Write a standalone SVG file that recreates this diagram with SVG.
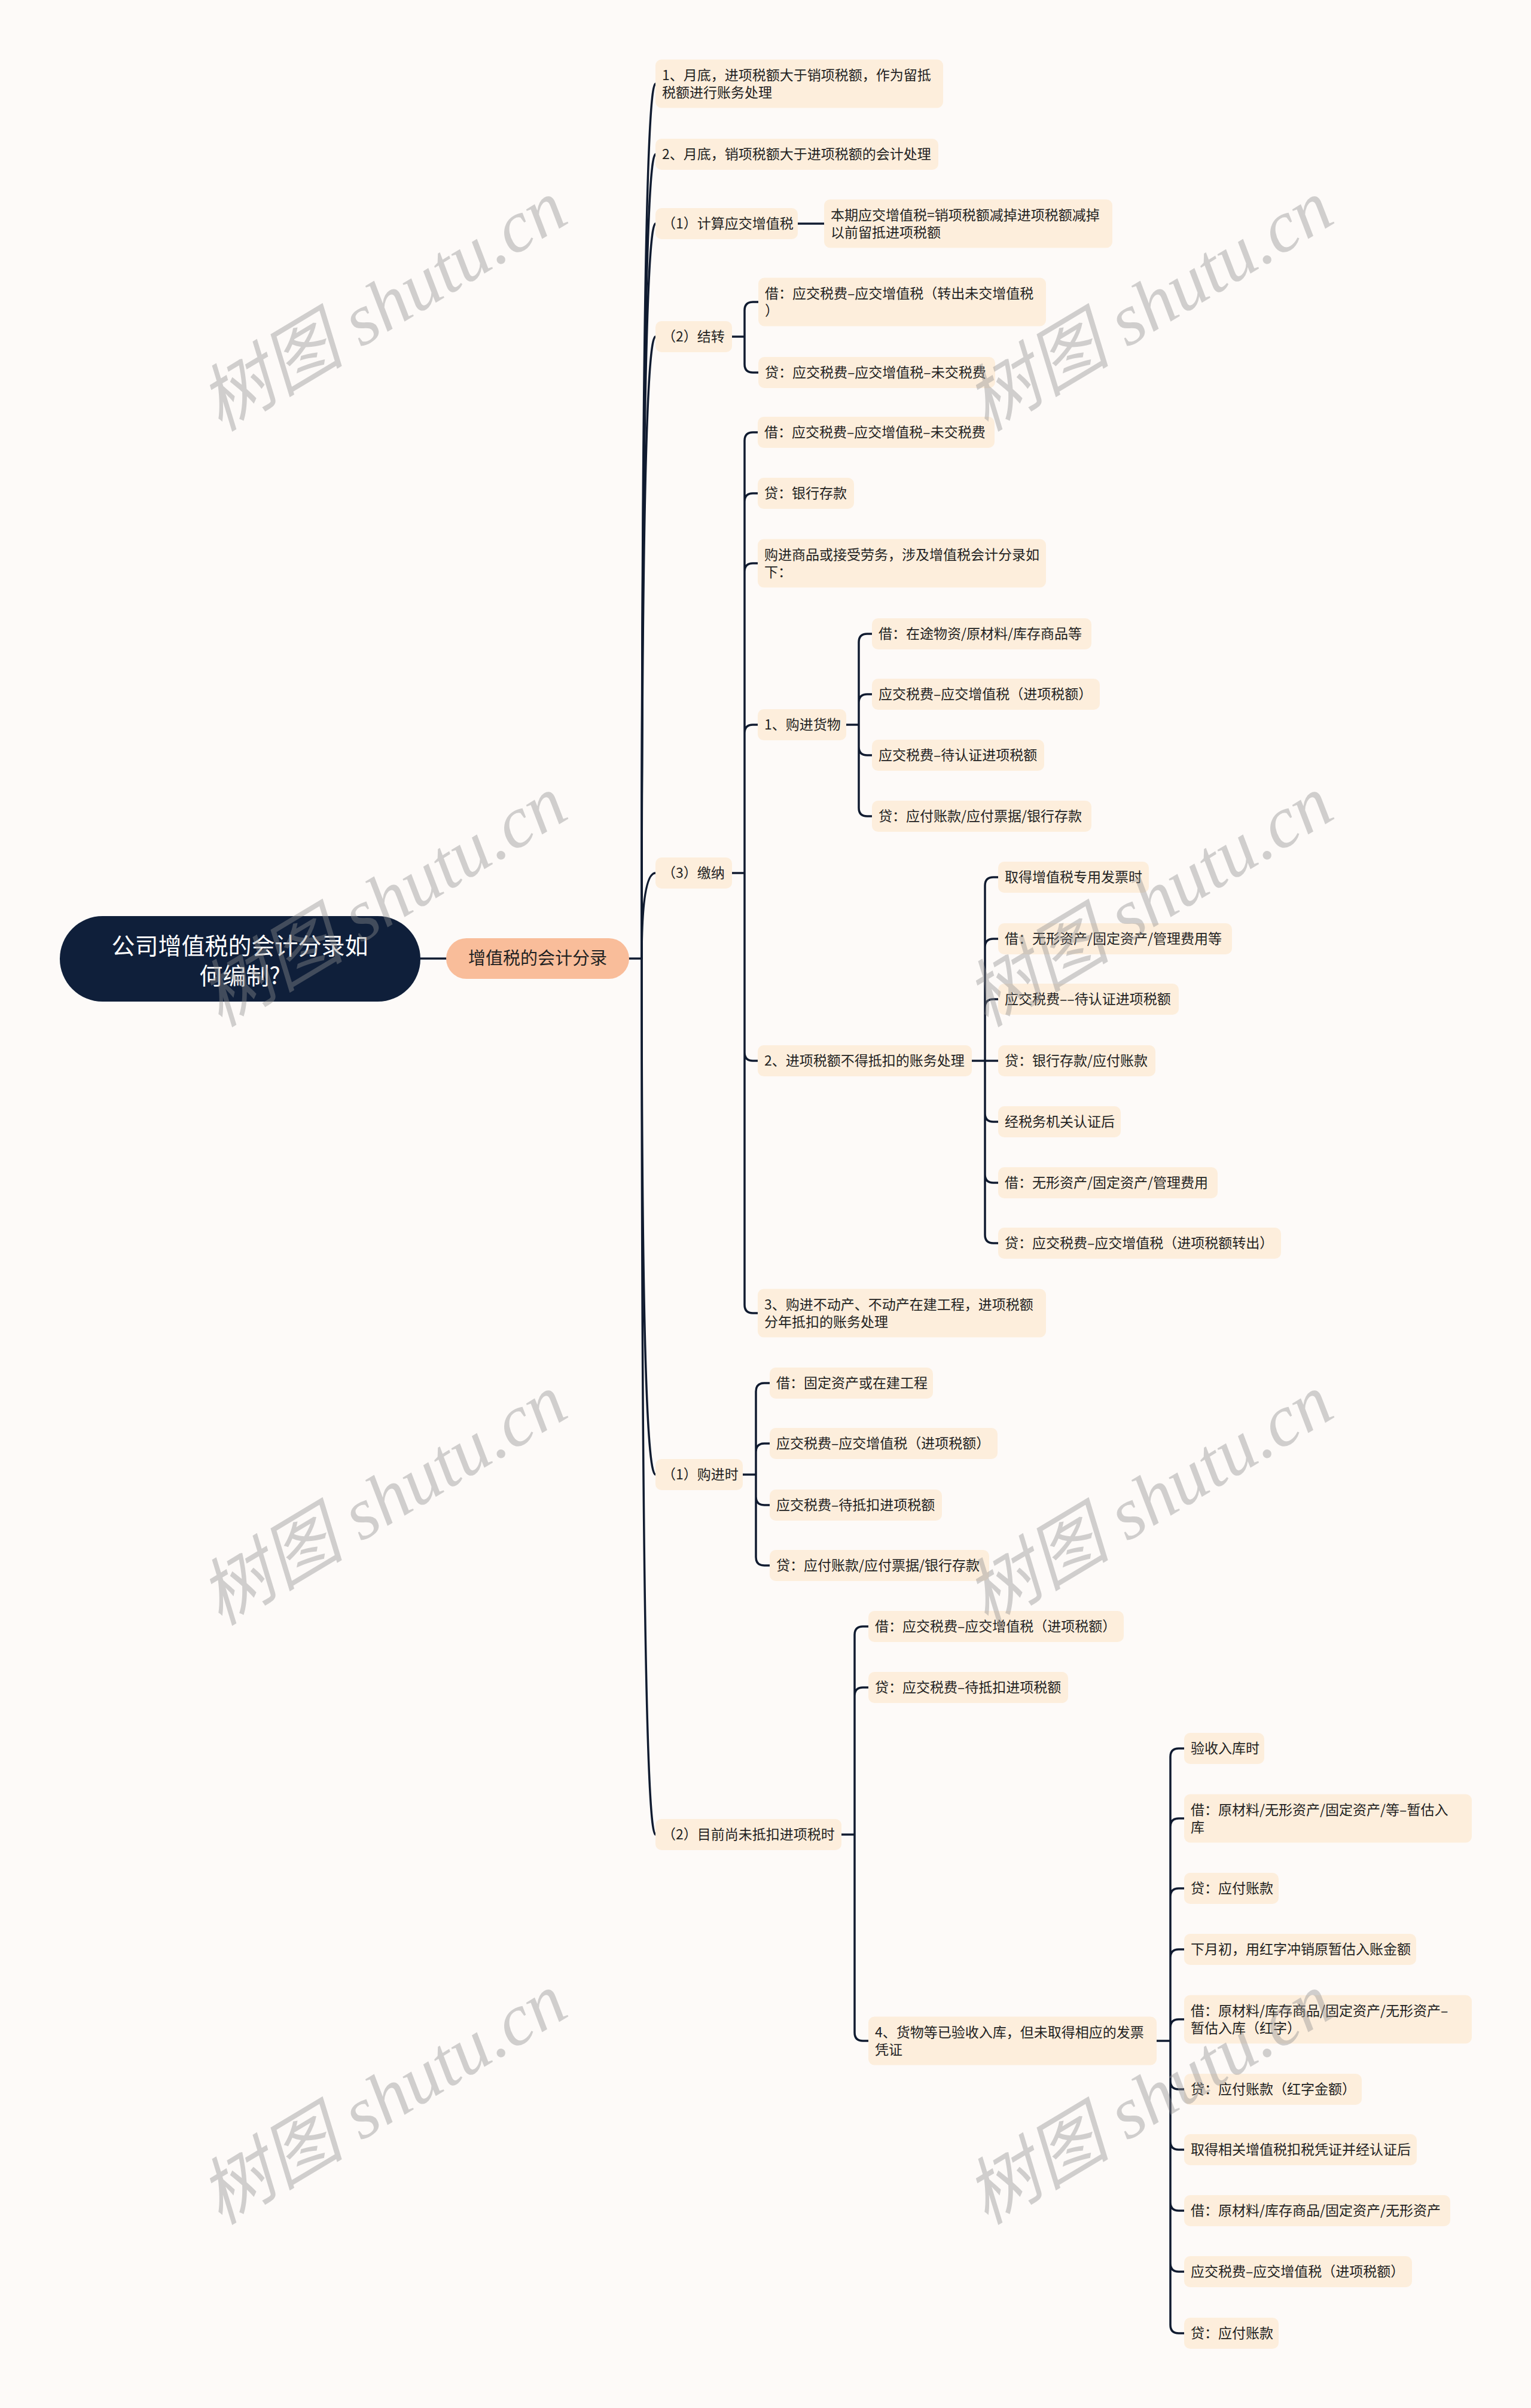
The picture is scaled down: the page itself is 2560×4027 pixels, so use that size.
<svg xmlns="http://www.w3.org/2000/svg" width="2560" height="4027" viewBox="0 0 2560 4027">
<style>
.bg{fill:#FDFAF8}
.nd rect{fill:#FDEEDC}
.tx{font-family:"Noto Sans CJK SC","Noto Sans",sans-serif;font-size:23px;fill:#222222}
.ln{fill:none;stroke:#101B30;stroke-width:3.5;stroke-linecap:round}
.wm{font-family:"Liberation Serif","Noto Sans CJK SC",serif;font-style:italic;font-size:122px;fill:#8f8f8f;opacity:.4;text-anchor:middle}
</style>
<rect class="bg" x="0" y="0" width="2560" height="4027"/>

<g id="connectors" class="ln">
<path d="M703,1603H746"/>
<path d="M1052,1603H1073"/>
<path d="M1073,1603Q1073,140 1096,140"/>
<path d="M1073,1603Q1073,258 1096,258"/>
<path d="M1073,1603Q1073,374 1096,374"/>
<path d="M1073,1603Q1073,563 1096,563"/>
<path d="M1073,1603Q1073,1460 1096,1460"/>
<path d="M1073,1603Q1073,2466 1096,2466"/>
<path d="M1073,1603Q1073,3068 1096,3068"/>
<path d="M1334,374H1378"/>
<path d="M1224,563H1245M1245,563V519Q1245,505 1259,505H1268M1245,563V609Q1245,623 1259,623H1268"/>
<path d="M1224,1460H1245M1245,1460V737Q1245,723 1259,723H1267M1245,1460V839Q1245,825 1259,825H1267M1245,1460V956Q1245,942 1259,942H1267M1245,1460V1226Q1245,1212 1259,1212H1267M1245,1460V1760Q1245,1774 1259,1774H1267M1245,1460V2182Q1245,2196 1259,2196H1267"/>
<path d="M1415,1212H1436M1436,1212V1074Q1436,1060 1450,1060H1458M1436,1212V1175Q1436,1161 1450,1161H1458M1436,1212V1249Q1436,1263 1450,1263H1458M1436,1212V1351Q1436,1365 1450,1365H1458"/>
<path d="M1625,1774H1669M1647,1774V1481Q1647,1467 1661,1467H1669M1647,1774V1584Q1647,1570 1661,1570H1669M1647,1774V1685Q1647,1671 1661,1671H1669M1647,1774V1862Q1647,1876 1661,1876H1669M1647,1774V1964Q1647,1978 1661,1978H1669M1647,1774V2065Q1647,2079 1661,2079H1669"/>
<path d="M1242,2466H1264M1264,2466V2327Q1264,2313 1278,2313H1287M1264,2466V2428Q1264,2414 1278,2414H1287M1264,2466V2503Q1264,2517 1278,2517H1287M1264,2466V2604Q1264,2618 1278,2618H1287"/>
<path d="M1407,3068H1429M1429,3068V2734Q1429,2720 1443,2720H1452M1429,3068V2836Q1429,2822 1443,2822H1452M1429,3068V3399Q1429,3413 1443,3413H1452"/>
<path d="M1934,3413H1957M1957,3413V2938Q1957,2924 1971,2924H1980M1957,3413V3055Q1957,3041 1971,3041H1980M1957,3413V3172Q1957,3158 1971,3158H1980M1957,3413V3274Q1957,3260 1971,3260H1980M1957,3413V3391Q1957,3377 1971,3377H1980M1957,3413V3480Q1957,3494 1971,3494H1980M1957,3413V3581Q1957,3595 1971,3595H1980M1957,3413V3683Q1957,3697 1971,3697H1980M1957,3413V3785Q1957,3799 1971,3799H1980M1957,3413V3888Q1957,3902 1971,3902H1980"/>
</g>

<g id="root">
<rect x="100" y="1532" width="603" height="143" rx="71.5" fill="#0F1F3A"/>
<text x="401" y="1596" font-family="Noto Sans CJK SC, sans-serif" font-size="39" fill="#FFFFFF" text-anchor="middle">公司增值税的会计分录如</text>
<text x="401" y="1646" font-family="Noto Sans CJK SC, sans-serif" font-size="39" fill="#FFFFFF" text-anchor="middle">何编制?</text>
</g>
<g id="main">
<rect x="746" y="1569" width="306" height="68" rx="34" fill="#F9BD9A"/>
<text x="899" y="1613" font-family="Noto Sans CJK SC, sans-serif" font-size="29" fill="#222222" text-anchor="middle">增值税的会计分录</text>
</g>

<g id="n1" class="nd"><rect x="1096" y="99.5" width="481" height="81" rx="10"/><text class="tx" x="1107" y="133.5">1、月底，进项税额大于销项税额，作为留抵</text><text class="tx" x="1107" y="162.5">税额进行账务处理</text></g>
<g id="n2" class="nd"><rect x="1096" y="232" width="473" height="52" rx="10"/><text class="tx" x="1107" y="266">2、月底，销项税额大于进项税额的会计处理</text></g>
<g id="n3" class="nd"><rect x="1096" y="348" width="238" height="52" rx="10"/><text class="tx" x="1107" y="382">（1）计算应交增值税</text></g>
<g id="n3a" class="nd"><rect x="1378" y="333.5" width="482" height="81" rx="10"/><text class="tx" x="1389" y="367.5">本期应交增值税=销项税额减掉进项税额减掉</text><text class="tx" x="1389" y="396.5">以前留抵进项税额</text></g>
<g id="n4" class="nd"><rect x="1096" y="537" width="128" height="52" rx="10"/><text class="tx" x="1107" y="571">（2）结转</text></g>
<g id="n4a" class="nd"><rect x="1268" y="464.5" width="481" height="81" rx="10"/><text class="tx" x="1279" y="498.5">借：应交税费–应交增值税（转出未交增值税</text><text class="tx" x="1279" y="527.5">）</text></g>
<g id="n4b" class="nd"><rect x="1268" y="597" width="396" height="52" rx="10"/><text class="tx" x="1279" y="631">贷：应交税费–应交增值税–未交税费</text></g>
<g id="n5" class="nd"><rect x="1096" y="1434" width="128" height="52" rx="10"/><text class="tx" x="1107" y="1468">（3）缴纳</text></g>
<g id="n5a" class="nd"><rect x="1267" y="697" width="396" height="52" rx="10"/><text class="tx" x="1278" y="731">借：应交税费–应交增值税–未交税费</text></g>
<g id="n5b" class="nd"><rect x="1267" y="799" width="161" height="52" rx="10"/><text class="tx" x="1278" y="833">贷：银行存款</text></g>
<g id="n5c" class="nd"><rect x="1267" y="901.5" width="482" height="81" rx="10"/><text class="tx" x="1278" y="935.5">购进商品或接受劳务，涉及增值税会计分录如</text><text class="tx" x="1278" y="964.5">下：</text></g>
<g id="n5d" class="nd"><rect x="1267" y="1186" width="148" height="52" rx="10"/><text class="tx" x="1278" y="1220">1、购进货物</text></g>
<g id="n5d1" class="nd"><rect x="1458" y="1034" width="367" height="52" rx="10"/><text class="tx" x="1469" y="1068">借：在途物资/原材料/库存商品等</text></g>
<g id="n5d2" class="nd"><rect x="1458" y="1135" width="381" height="52" rx="10"/><text class="tx" x="1469" y="1169">应交税费–应交增值税（进项税额）</text></g>
<g id="n5d3" class="nd"><rect x="1458" y="1237" width="288" height="52" rx="10"/><text class="tx" x="1469" y="1271">应交税费–待认证进项税额</text></g>
<g id="n5d4" class="nd"><rect x="1458" y="1339" width="367" height="52" rx="10"/><text class="tx" x="1469" y="1373">贷：应付账款/应付票据/银行存款</text></g>
<g id="n5e" class="nd"><rect x="1267" y="1748" width="358" height="52" rx="10"/><text class="tx" x="1278" y="1782">2、进项税额不得抵扣的账务处理</text></g>
<g id="n5e1" class="nd"><rect x="1669" y="1441" width="252" height="52" rx="10"/><text class="tx" x="1680" y="1475">取得增值税专用发票时</text></g>
<g id="n5e2" class="nd"><rect x="1669" y="1544" width="391" height="52" rx="10"/><text class="tx" x="1680" y="1578">借：无形资产/固定资产/管理费用等</text></g>
<g id="n5e3" class="nd"><rect x="1669" y="1645" width="302" height="52" rx="10"/><text class="tx" x="1680" y="1679">应交税费––待认证进项税额</text></g>
<g id="n5e4" class="nd"><rect x="1669" y="1748" width="263" height="52" rx="10"/><text class="tx" x="1680" y="1782">贷：银行存款/应付账款</text></g>
<g id="n5e5" class="nd"><rect x="1669" y="1850" width="205" height="52" rx="10"/><text class="tx" x="1680" y="1884">经税务机关认证后</text></g>
<g id="n5e6" class="nd"><rect x="1669" y="1952" width="367" height="52" rx="10"/><text class="tx" x="1680" y="1986">借：无形资产/固定资产/管理费用</text></g>
<g id="n5e7" class="nd"><rect x="1669" y="2053" width="473" height="52" rx="10"/><text class="tx" x="1680" y="2087">贷：应交税费–应交增值税（进项税额转出）</text></g>
<g id="n5f" class="nd"><rect x="1267" y="2155.5" width="482" height="81" rx="10"/><text class="tx" x="1278" y="2189.5">3、购进不动产、不动产在建工程，进项税额</text><text class="tx" x="1278" y="2218.5">分年抵扣的账务处理</text></g>
<g id="n6" class="nd"><rect x="1096" y="2440" width="146" height="52" rx="10"/><text class="tx" x="1107" y="2474">（1）购进时</text></g>
<g id="n6a" class="nd"><rect x="1287" y="2287" width="273" height="52" rx="10"/><text class="tx" x="1298" y="2321">借：固定资产或在建工程</text></g>
<g id="n6b" class="nd"><rect x="1287" y="2388" width="381" height="52" rx="10"/><text class="tx" x="1298" y="2422">应交税费–应交增值税（进项税额）</text></g>
<g id="n6c" class="nd"><rect x="1287" y="2491" width="288" height="52" rx="10"/><text class="tx" x="1298" y="2525">应交税费–待抵扣进项税额</text></g>
<g id="n6d" class="nd"><rect x="1287" y="2592" width="367" height="52" rx="10"/><text class="tx" x="1298" y="2626">贷：应付账款/应付票据/银行存款</text></g>
<g id="n7" class="nd"><rect x="1096" y="3042" width="311" height="52" rx="10"/><text class="tx" x="1107" y="3076">（2）目前尚未抵扣进项税时</text></g>
<g id="n7a" class="nd"><rect x="1452" y="2694" width="427" height="52" rx="10"/><text class="tx" x="1463" y="2728">借：应交税费–应交增值税（进项税额）</text></g>
<g id="n7b" class="nd"><rect x="1452" y="2796" width="334" height="52" rx="10"/><text class="tx" x="1463" y="2830">贷：应交税费–待抵扣进项税额</text></g>
<g id="n7c" class="nd"><rect x="1452" y="3372.5" width="482" height="81" rx="10"/><text class="tx" x="1463" y="3406.5">4、货物等已验收入库，但未取得相应的发票</text><text class="tx" x="1463" y="3435.5">凭证</text></g>
<g id="n7c1" class="nd"><rect x="1980" y="2898" width="134" height="52" rx="10"/><text class="tx" x="1991" y="2932">验收入库时</text></g>
<g id="n7c2" class="nd"><rect x="1980" y="3000.5" width="481" height="81" rx="10"/><text class="tx" x="1991" y="3034.5">借：原材料/无形资产/固定资产/等–暂估入</text><text class="tx" x="1991" y="3063.5">库</text></g>
<g id="n7c3" class="nd"><rect x="1980" y="3132" width="158" height="52" rx="10"/><text class="tx" x="1991" y="3166">贷：应付账款</text></g>
<g id="n7c4" class="nd"><rect x="1980" y="3234" width="388" height="52" rx="10"/><text class="tx" x="1991" y="3268">下月初，用红字冲销原暂估入账金额</text></g>
<g id="n7c5" class="nd"><rect x="1980" y="3336.5" width="481" height="81" rx="10"/><text class="tx" x="1991" y="3370.5">借：原材料/库存商品/固定资产/无形资产–</text><text class="tx" x="1991" y="3399.5">暂估入库（红字）</text></g>
<g id="n7c6" class="nd"><rect x="1980" y="3468" width="297" height="52" rx="10"/><text class="tx" x="1991" y="3502">贷：应付账款（红字金额）</text></g>
<g id="n7c7" class="nd"><rect x="1980" y="3569" width="389" height="52" rx="10"/><text class="tx" x="1991" y="3603">取得相关增值税扣税凭证并经认证后</text></g>
<g id="n7c8" class="nd"><rect x="1980" y="3671" width="445" height="52" rx="10"/><text class="tx" x="1991" y="3705">借：原材料/库存商品/固定资产/无形资产</text></g>
<g id="n7c9" class="nd"><rect x="1980" y="3773" width="381" height="52" rx="10"/><text class="tx" x="1991" y="3807">应交税费–应交增值税（进项税额）</text></g>
<g id="n7c10" class="nd"><rect x="1980" y="3876" width="158" height="52" rx="10"/><text class="tx" x="1991" y="3910">贷：应付账款</text></g>

<g id="watermarks">
<text class="wm" x="642" y="552" transform="rotate(-31 642 514)">树图 shutu.cn</text>
<text class="wm" x="1923" y="552" transform="rotate(-31 1923 514)">树图 shutu.cn</text>
<text class="wm" x="642" y="1548" transform="rotate(-31 642 1510)">树图 shutu.cn</text>
<text class="wm" x="1923" y="1548" transform="rotate(-31 1923 1510)">树图 shutu.cn</text>
<text class="wm" x="642" y="2549" transform="rotate(-31 642 2511)">树图 shutu.cn</text>
<text class="wm" x="1923" y="2549" transform="rotate(-31 1923 2511)">树图 shutu.cn</text>
<text class="wm" x="642" y="3551" transform="rotate(-31 642 3513)">树图 shutu.cn</text>
<text class="wm" x="1923" y="3551" transform="rotate(-31 1923 3513)">树图 shutu.cn</text>
</g>
</svg>
